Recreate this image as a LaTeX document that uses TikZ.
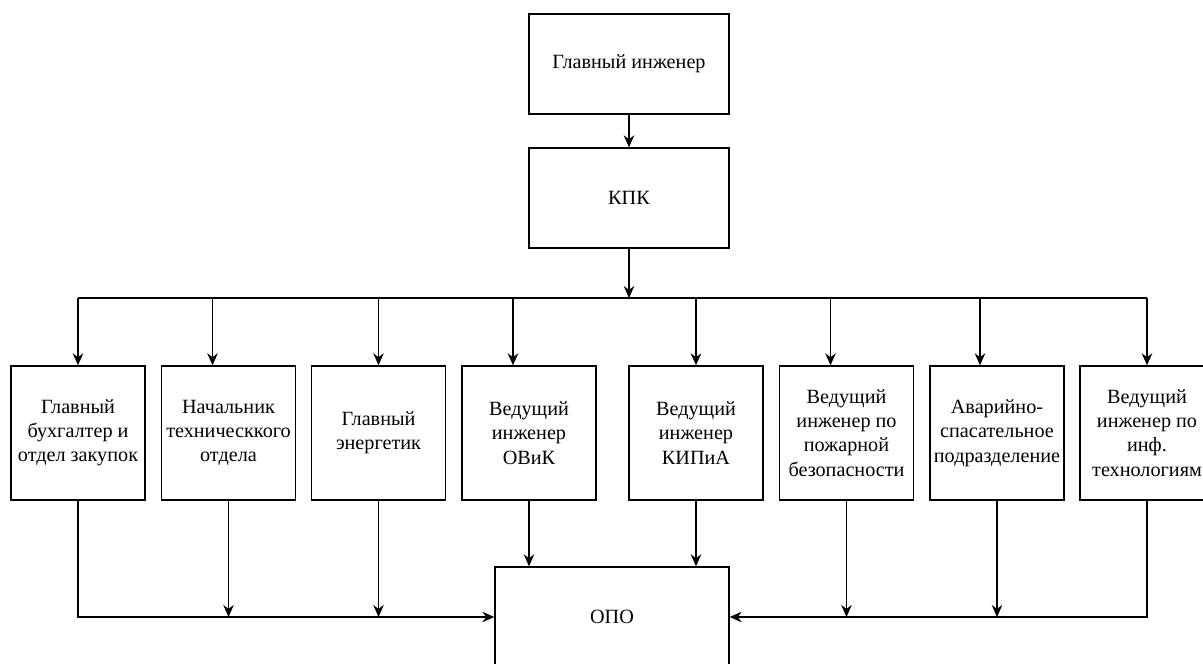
\documentclass[tikz,border=0pt]{standalone}
\usepackage{fontspec}
\setmainfont{Liberation Serif}
\usetikzlibrary{arrows.meta}

\tikzset{
  unit/.style={draw, line width=0.8pt, align=center, inner sep=1pt,
    font=\fontsize{11.5}{13.8}\selectfont},
  sq/.style={unit, minimum width=2.68cm, minimum height=2.68cm},
  wide/.style={unit, minimum width=4cm, minimum height=2cm},
  link/.style={line width=0.8pt}
}

\begin{document}
\begin{tikzpicture}[x=0.02cm, y=-0.02cm, >={Stealth[length=2.4mm, width=2.1mm]}]
  \useasboundingbox (0,0) rectangle (1203,663);
  \begin{scope}
  \clip (0,0) rectangle (1203,663);

  % top of the chart
  \node[wide] (gi) at (629,64) {Главный инженер};
  \node[wide] (kpk) at (629,198) {КПК};
  \coordinate (bus) at (629,298);

  % the eight units
  \foreach \x/\name/\txt in {78/b1/{Главный\\бухгалтер и\\отдел закупок},
      228.5/b2/{Начальник\\техническкого\\отдела},
      378.5/b3/{Главный\\энергетик},
      529/b4/{Ведущий\\инженер\\ОВиК},
      696/b5/{Ведущий\\инженер\\КИПиА},
      846.5/b6/{Ведущий\\инженер по\\пожарной\\безопасности},
      997/b7/{Аварийно-\\спасательное\\подразделение},
      1147/b8/{Ведущий\\инженер по\\инф.\\технологиям}}
    \node[sq] (\name) at (\x,433) {\txt};

  \node[wide, minimum width=4.68cm] (opo) at (612,617) {ОПО};

  \draw[link,->] (gi) -- (kpk);
  \draw[link,->] (kpk) -- (bus);
  \draw[link] (b1.north |- bus) -- (b8.north |- bus);

  % arrows down to the units
  \coordinate (t2) at ([xshift=-0.32cm]b2.north);
  \coordinate (t4) at ([xshift=-0.32cm]b4.north);
  \coordinate (t6) at ([xshift=-0.32cm]b6.north);
  \coordinate (t7) at ([xshift=-0.34cm]b7.north);
  \foreach \t in {b1.north,t2,b3.north,t4,b5.north,t6,t7,b8.north}
    \draw[link,->] (\t |- bus) -- (\t);

  % arrows to the ОПО
  \draw[link,->] (b1.south) |- (opo.west);
  \draw[link,->] (b8.south) |- (opo.east);
  \foreach \b in {b2,b3}
    \draw[link,->] (\b.south) -- (\b.south |- opo.west);
  \foreach \b in {b6,b7}
    \draw[link,->] (\b.south) -- (\b.south |- opo.east);
  \draw[link,->] (b4.south) -- (b4.south |- opo.north);
  \draw[link,->] (b5.south) -- (b5.south |- opo.north);
  \end{scope}
\end{tikzpicture}
\end{document}
